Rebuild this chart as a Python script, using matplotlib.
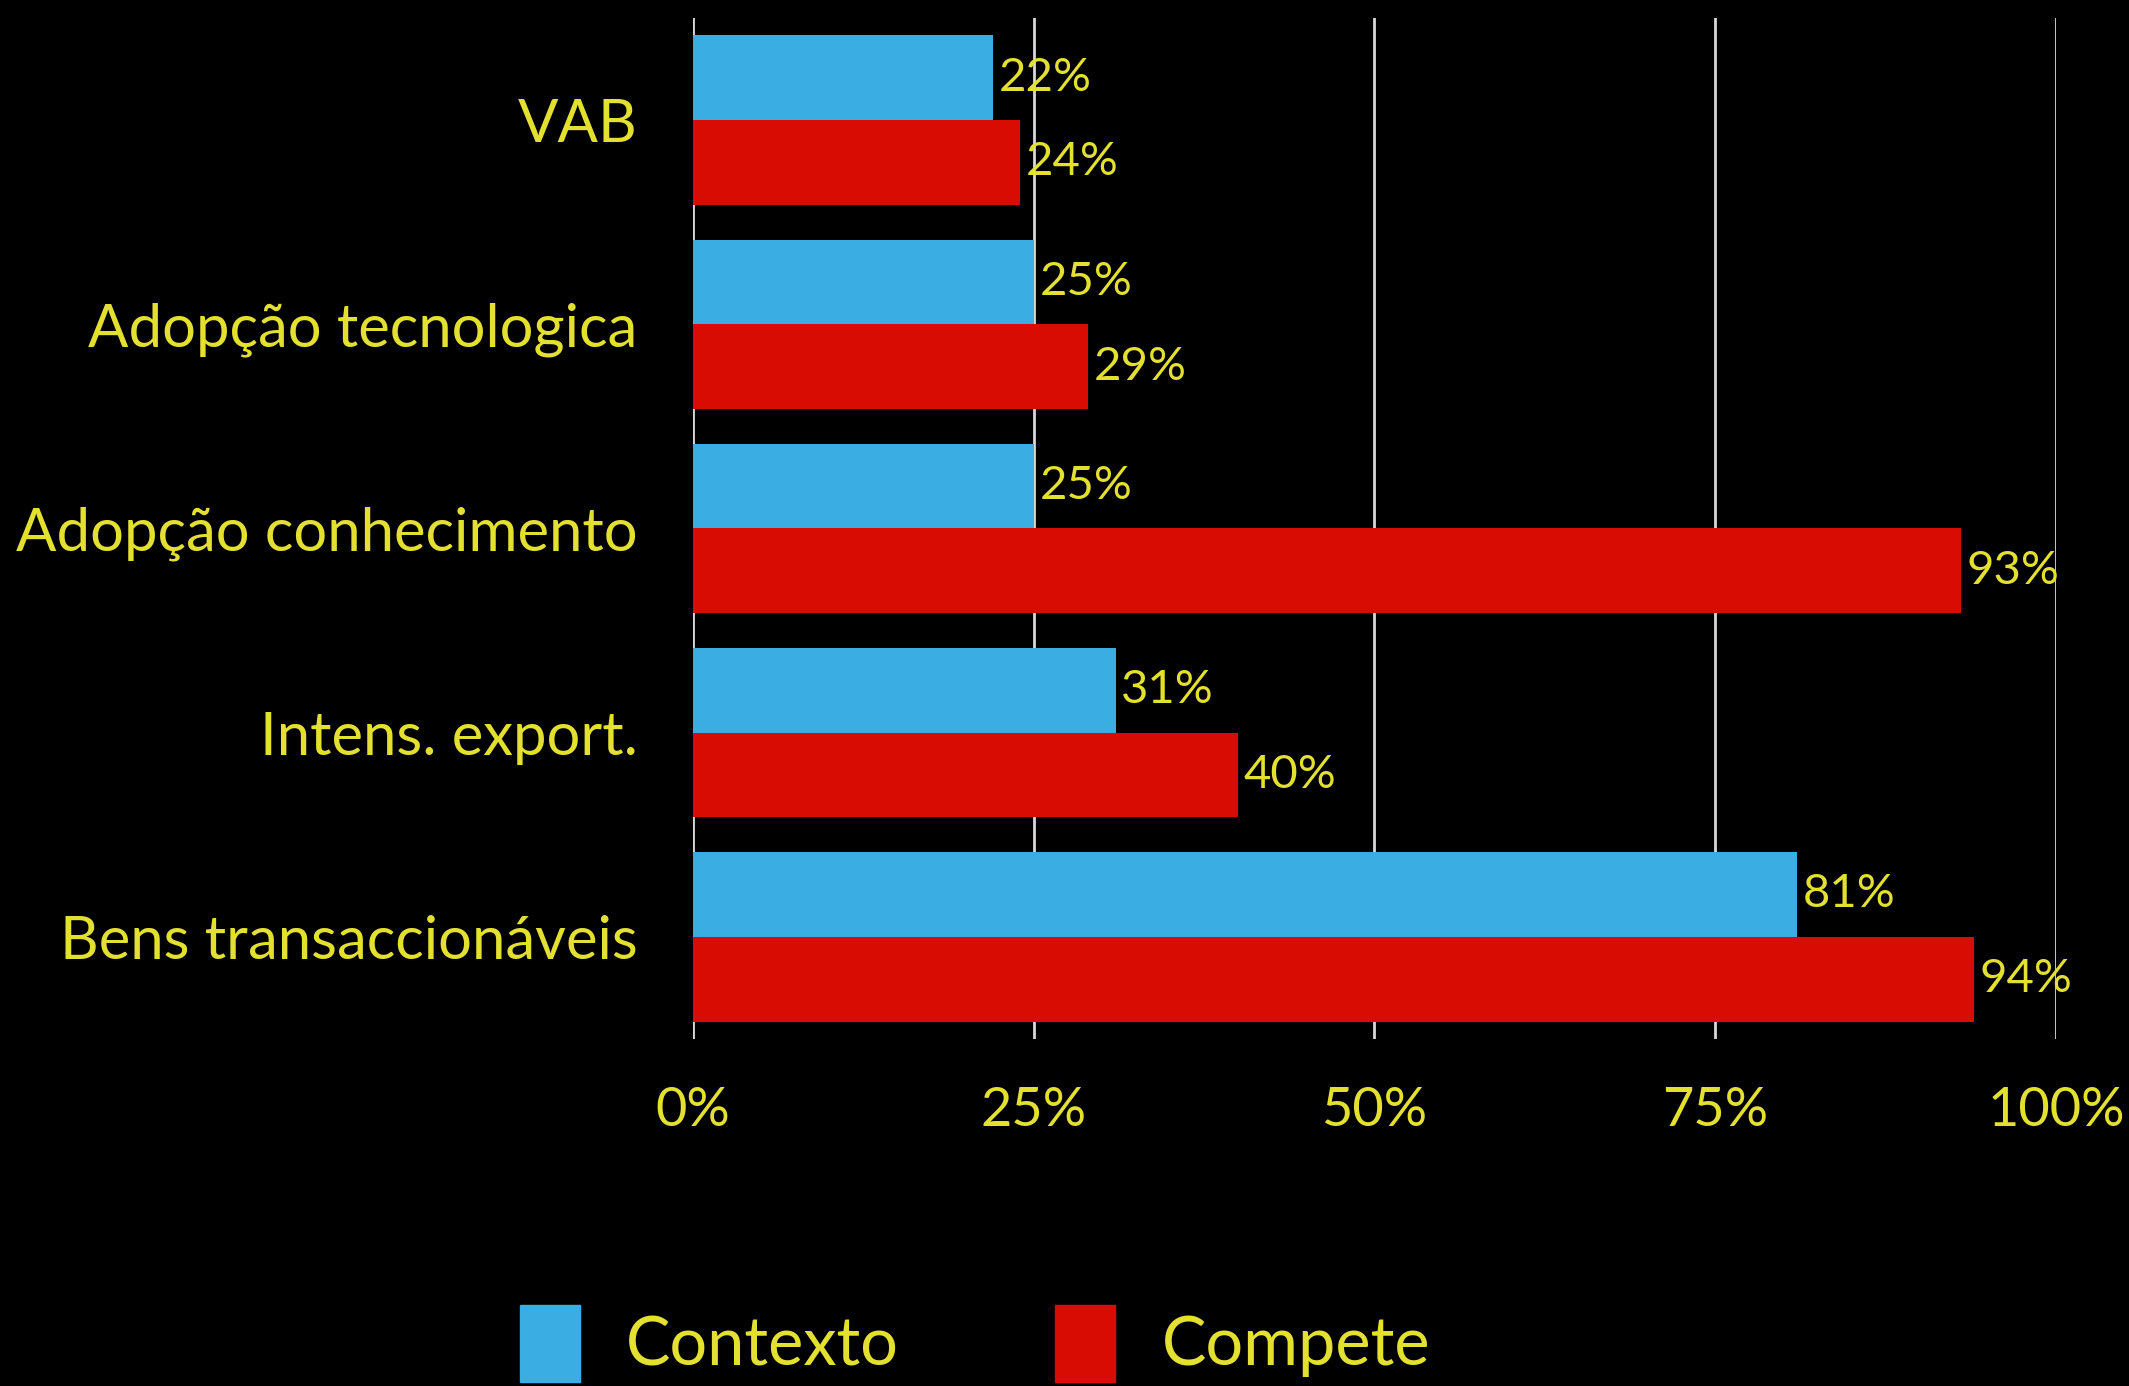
import matplotlib.pyplot as plt
import numpy as np
from matplotlib.patches import Patch

categories = ['VAB', 'Adopção tecnologica', 'Adopção conhecimento',
              'Intens. export.', 'Bens transaccionáveis']
contexto = [22, 25, 25, 31, 81]
compete = [24, 29, 93, 40, 94]
x_ticks = [0, 25, 50, 75, 100]
x_tick_labels = ['0%', '25%', '50%', '75%', '100%']
series_names = ['Contexto', 'Compete']

blue = '#3AAEE2'
red = '#D80C02'
yellow = '#E4E030'
font = ['Lato', 'DejaVu Sans']


def draw_chart():
    fig = plt.figure(figsize=[21.29, 13.86], dpi=100, facecolor='black')
    ax = fig.add_axes([0.3255, 0.2504, 0.6402, 0.7366])
    ax.set_facecolor('black')

    y = np.arange(len(categories))
    h = 0.415
    ax.barh(y - h / 2, contexto, h, color=blue, zorder=3)
    ax.barh(y + h / 2, compete, h, color=red, zorder=3)

    # value labels just past the bar ends
    for yi, v in zip(y - h / 2, contexto):
        ax.annotate(f'{v}%', (v, yi), xytext=(4, 0), textcoords='offset points',
                    va='center', ha='left', color=yellow, fontsize=34,
                    family=font, zorder=4)
    for yi, v in zip(y + h / 2, compete):
        ax.annotate(f'{v}%', (v, yi), xytext=(4, 0), textcoords='offset points',
                    va='center', ha='left', color=yellow, fontsize=34,
                    family=font, zorder=4)

    ax.set_xlim(0, 100)
    ax.set_ylim(len(categories) - 0.5, -0.5)
    ax.set_xticks(x_ticks)
    ax.set_xticklabels(x_tick_labels, family=font, fontsize=39, color=yellow)
    ax.set_yticks(y)
    ax.set_yticklabels(categories, family=font, fontsize=43, color=yellow)
    ax.tick_params(axis='x', length=0, pad=34)
    ax.tick_params(axis='y', length=0, pad=40)
    for s in ax.spines.values():
        s.set_visible(False)
    for xv in x_ticks:
        ax.axvline(xv, color='#D8D8D8', lw=2, zorder=1)

    handles = [Patch(color=blue), Patch(color=red)]
    fig.legend(handles, series_names, loc='center left',
               bbox_to_anchor=(0.216, 0.031), ncol=2, frameon=False,
               prop={'family': font, 'size': 48}, labelcolor=yellow,
               handlelength=0.9, handleheight=1.4, handletextpad=0.69,
               columnspacing=2.35)

    plt.savefig('out.png', facecolor='black', dpi=100)


if __name__ == '__main__':
    draw_chart()
